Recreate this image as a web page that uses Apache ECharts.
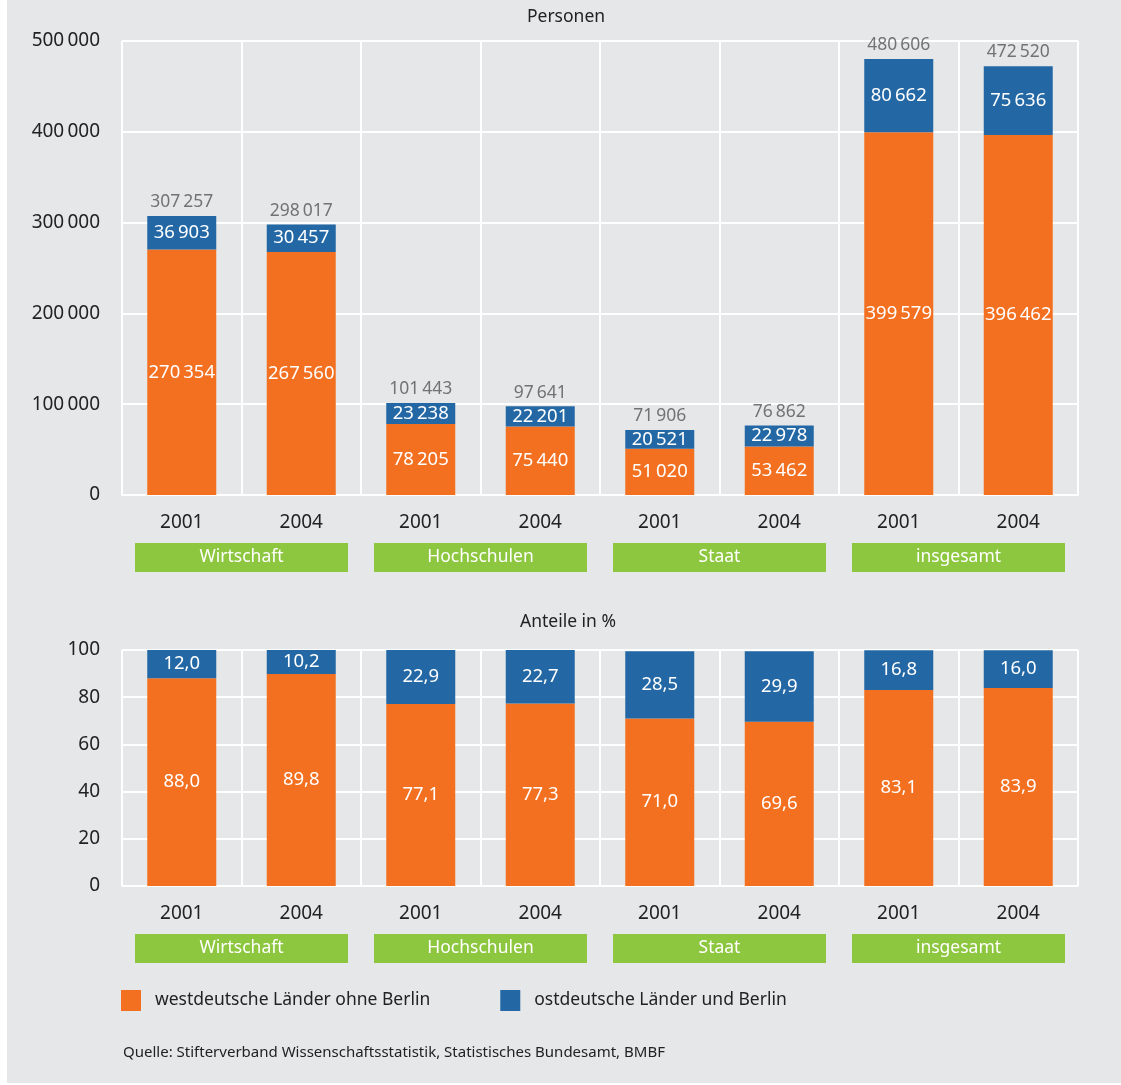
<!DOCTYPE html>
<html><head><meta charset="utf-8">
<script src="https://cdn.jsdelivr.net/npm/echarts@6/dist/echarts.min.js"></script>
<style>
html,body{margin:0;padding:0;background:#fff;}
#bg{position:absolute;left:7px;top:0;width:1114px;height:1083px;background:#e6e7e9;}
#c{position:absolute;left:0;top:0;width:1121px;height:1085px;}
</style></head>
<body><div id="bg"></div><div id="c"></div>
<script>
const years = ['2001','2004','2001','2004','2001','2004','2001','2004'];
const groups = ['Wirtschaft','Hochschulen','Staat','insgesamt'];
const seriesNames = ['westdeutsche Länder ohne Berlin','ostdeutsche Länder und Berlin'];
const westPersons = [270354,267560,78205,75440,51020,53462,399579,396462];
const eastPersons = [36903,30457,23238,22201,20521,22978,80662,75636];
const totalPersons = [307257,298017,101443,97641,71906,76862,480606,472520];
const westShare = [88.0,89.8,77.1,77.3,71.0,69.6,83.1,83.9];
const eastShare = [12.0,10.2,22.9,22.7,28.5,29.9,16.8,16.0];
const yTicksTop = [0,100000,200000,300000,400000,500000];
const yTicksBottom = [0,20,40,60,80,100];

const FONT = '"Noto Sans", sans-serif';
const ORANGE = '#f37021', BLUE = '#2368a5', GREEN = '#8dc63f';
const fmtN = v => String(Math.round(v)).replace(/\B(?=(\d{3})+(?!\d))/g, '\u2009');
const fmtP = v => v.toFixed(1).replace('.', ',');

const chart = echarts.init(document.getElementById('c'));
const grids = [
  {left:122, top:41, width:956, height:454},
  {left:122, top:650, width:956, height:236}
];
function yearAxis(i){
  return {type:'category', gridIndex:i, data:years, position:'bottom',
    axisLine:{show:true, lineStyle:{color:'#fff', width:2}},
    axisTick:{show:false},
    splitLine:{show:true, interval:0, lineStyle:{color:'#fff', width:2}},
    axisLabel:{color:'#222', fontSize:19, fontFamily:FONT, margin:18, interval:0}};
}
function groupAxis(i){
  return {type:'category', gridIndex:i, data:groups, position:'bottom',
    axisLine:{show:false}, axisTick:{show:false}, splitLine:{show:false},
    axisLabel:{interval:0, margin:48, color:'#fff', fontSize:17.5, fontFamily:FONT,
      backgroundColor:GREEN, width:213, height:29, lineHeight:29, align:'center', verticalAlign:'top'}};
}
function yAxis(i, max, interval, fmt){
  return {type:'value', gridIndex:i, min:0, max:max, interval:interval,
    axisLine:{show:false}, axisTick:{show:false},
    splitLine:{show:true, lineStyle:{color:'#fff', width:2}},
    axisLabel:{color:'#222', fontSize:19, fontFamily:FONT, margin:22, formatter:fmt}};
}
const insideLabel = (fmt) => ({show:true, position:'inside', color:'#fff', fontSize:18.5, fontFamily:FONT, formatter:p=>fmt(p.value)});

chart.setOption({
  animation:false,
  textStyle:{fontFamily:FONT},
  grid:grids,
  xAxis:[yearAxis(0), groupAxis(0), yearAxis(1), groupAxis(1)],
  yAxis:[yAxis(0, 500000, 100000, v=>fmtN(v)), yAxis(1, 100, 20, v=>String(v))],
  legend:{left:121, top:990, padding:0, itemWidth:20, itemHeight:21, itemGap:70, icon:'rect',
    data:seriesNames, textStyle:{color:'#222', fontSize:17.5, fontFamily:FONT, padding:[0,0,0,9]}},
  graphic:[
    {type:'text', x:566, y:17, style:{text:'Personen', fill:'#222', font:'17.5px "Noto Sans", sans-serif', textAlign:'center', textVerticalAlign:'middle'}},
    {type:'text', x:568, y:622, style:{text:'Anteile in %', fill:'#222', font:'17.5px "Noto Sans", sans-serif', textAlign:'center', textVerticalAlign:'middle'}},
    {type:'text', x:123, y:1053, style:{text:'Quelle: Stifterverband Wissenschaftsstatistik, Statistisches Bundesamt, BMBF', fill:'#222', font:'15px "Noto Sans", sans-serif', textVerticalAlign:'middle'}}
  ],
  series:[
    {name:seriesNames[0], type:'bar', stack:'a', xAxisIndex:0, yAxisIndex:0, data:westPersons, barWidth:69, itemStyle:{color:ORANGE}, label:insideLabel(fmtN)},
    {name:seriesNames[1], type:'bar', stack:'a', xAxisIndex:0, yAxisIndex:0, data:eastPersons, barWidth:69, itemStyle:{color:BLUE}, label:insideLabel(fmtN)},
    {name:'total', type:'scatter', xAxisIndex:0, yAxisIndex:0, data:totalPersons, symbolSize:1, itemStyle:{color:'transparent'},
      label:{show:true, position:'top', distance:4, color:'#555', fontSize:17.5, fontFamily:FONT, formatter:p=>fmtN(p.value)}},
    {name:seriesNames[0], type:'bar', stack:'b', xAxisIndex:2, yAxisIndex:1, data:westShare, barWidth:69, itemStyle:{color:ORANGE}, label:insideLabel(fmtP)},
    {name:seriesNames[1], type:'bar', stack:'b', xAxisIndex:2, yAxisIndex:1, data:eastShare, barWidth:69, itemStyle:{color:BLUE}, label:insideLabel(fmtP)}
  ]
});
</script></body></html>
